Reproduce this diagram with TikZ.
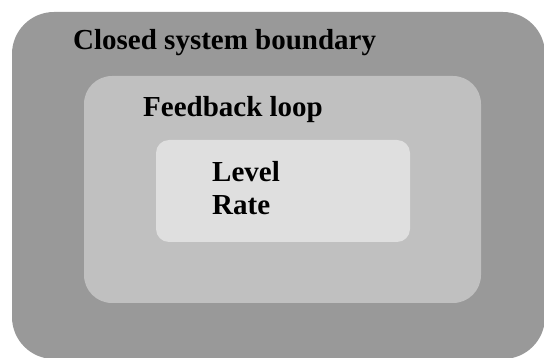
\documentclass[tikz,border=0pt]{standalone}
\usepackage{fontspec}
\setmainfont{Liberation Serif}
\definecolor{outergray}{HTML}{999999}
\definecolor{midgray}{HTML}{C0C0C0}
\definecolor{innergray}{HTML}{DFDFDF}
\begin{document}
\begin{tikzpicture}[x=1pt,y=-1pt,
  boxstyle/.style={draw=none,anchor=north west,inner sep=0pt,outer sep=0pt},
  lbl/.style={anchor=base west,inner sep=0pt,font=\fontsize{29}{33}\selectfont\bfseries}]
\useasboundingbox (0,0) rectangle (544,358);
\clip (0,0) rectangle (544,358);
\node[boxstyle,fill=outergray,rounded corners=42pt,minimum width=533pt,minimum height=347pt] (outer) at (12,12) {};
\node[boxstyle,fill=midgray,rounded corners=28pt,minimum width=397pt,minimum height=227pt] (mid) at (84,76) {};
\node[boxstyle,fill=innergray,rounded corners=13pt,minimum width=254pt,minimum height=102pt] (inner) at (156,140) {};
\node[lbl] (closed) at (73,50) {Closed system boundary};
\node[lbl] (feedback) at (143,117) {Feedback loop};
\node[lbl] (level) at (212,182) {Level};
\node[lbl] (rate) at (212,215) {Rate};
\end{tikzpicture}
\end{document}
